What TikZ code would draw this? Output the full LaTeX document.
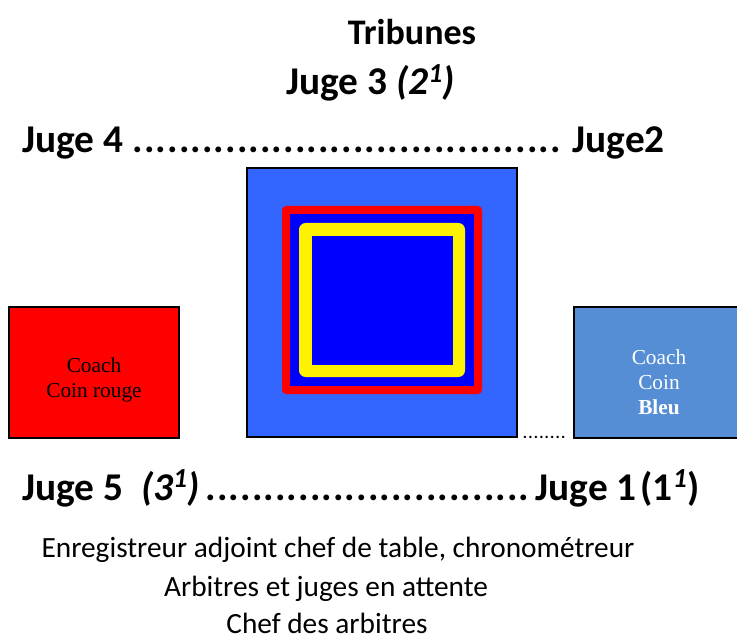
\documentclass[tikz,border=0pt]{standalone}
\usepackage{fontspec}
\setmainfont{Carlito}
\newfontfamily\timesfont{Liberation Serif}
\usetikzlibrary{positioning,calc}

\definecolor{ringblue}{HTML}{3366FF}
\definecolor{matblue}{HTML}{0000FF}
\definecolor{coachblue}{HTML}{558ED5}

% dotted filler of a given width
\newcommand{\dotrun}[1]{\hbox to #1{\leaders\hbox to 8.7pt{\hss.\hss}\hfill}}

\begin{document}
\begin{tikzpicture}[
    x=0.75pt, y=-0.75pt,
    judge/.style={inner sep=0pt, font=\fontsize{29.5}{34}\selectfont\bfseries},
    info/.style={inner sep=0pt, font=\fontsize{22}{26}\selectfont},
    coach/.style={draw=black, line width=1.5pt, inner sep=0pt,
        minimum width=128pt, minimum height=98.25pt},
    coachtext/.style={inner sep=0pt, align=center,
        font=\timesfont\fontsize{16}{18.75}\selectfont}
]
    \useasboundingbox (0,0) rectangle (737,641);

    % tribunes and judges
    \node[inner sep=0pt, font=\fontsize{27}{32}\selectfont\bfseries] (tribunes) at (412,32) {Tribunes};
    \node[judge, anchor=base west] (juge3) at (286,95) {Juge 3 \itshape(2\textsuperscript{1})};
    \node[judge, anchor=base west] (juge4) at (22,153) {Juge 4};
    \node[judge, anchor=base east] (juge2) at (665,153) {Juge2};
    \node[judge, anchor=base west] (dots42) at (132,153) {\dotrun{324pt}};
    \node[judge, anchor=base west] (juge5) at (22,500) {Juge 5~ \itshape(3\textsuperscript{1})};
    \node[judge, anchor=base east] (juge1) at (700,500) {Juge 1\hspace{0.1em}(1\textsuperscript{\itshape 1})};
    \node[judge, anchor=base west] (dots51) at (205,500) {\dotrun{244pt}};

    % ring
    \draw[fill=ringblue, line width=1.2pt] (247,168) rectangle (517,437);
    \fill[red, rounded corners=3] (282,206) rectangle (482,394);
    \fill[matblue] (290,214) rectangle (474,386);
    \fill[yellow, rounded corners=5] (299,223) rectangle (465,377);
    \fill[matblue] (312,236) rectangle (453,365);

    % coaches
    \node[coach, fill=red] (rouge) at (94,372.5) {};
    \node[coachtext] (rougetxt) at ($(rouge.center)+(0,7)$) {Coach\\Coin rouge};
    \node[coach, fill=coachblue] (bleu) at (659,372.5) {};
    \node[coachtext, text=white] (bleutxt) at ($(bleu.center)+(0,10)$) {Coach\\Coin\\\textbf{Bleu}};
    \node[inner sep=0pt, font=\fontsize{12}{14}\selectfont\bfseries, anchor=base west] (dotsbleu) at (522,438)
        {\hbox to 33pt{\leaders\hbox to 4.1pt{\hss.\hss}\hfill}};

    % table
    \node[info, anchor=base] (table) at (338,557) {Enregistreur adjoint chef de table, chronométreur};
    \node[info, anchor=base] (attente) at (326,596) {Arbitres et juges en attente};
    \node[info, anchor=base] (chef) at (327,633) {Chef des arbitres};
\end{tikzpicture}
\end{document}
